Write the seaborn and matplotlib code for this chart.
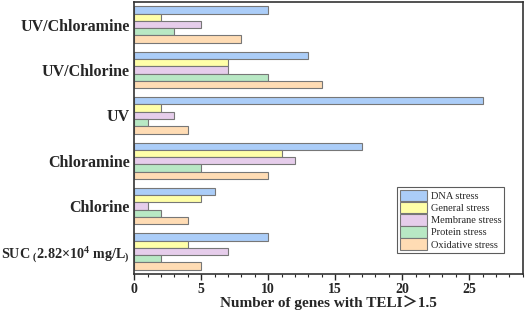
import pandas as pd
import matplotlib.pyplot as plt
import seaborn as sns
from matplotlib.ticker import MultipleLocator

# treatments, top to bottom
treatments = ['UV/Chloramine', 'UV/Chlorine', 'UV', 'Chloramine', 'Chlorine',
              'SUC $_{(}$2.82×10$^{4}$ mg/L$_{)}$']
stresses = ['DNA stress', 'General stress', 'Membrane stress',
            'Protein stress', 'Oxidative stress']

dna = [10, 13, 26, 17, 6, 10]
general = [2, 7, 2, 11, 5, 4]
membrane = [5, 7, 3, 12, 1, 7]
protein = [3, 10, 1, 5, 2, 2]
oxidative = [8, 14, 4, 10, 4, 5]

colors = ['#abcdf8', '#ffffa8', '#e6cdeb', '#b8e8c4', '#ffdcb4']

rows = []
for s, vals in zip(stresses, [dna, general, membrane, protein, oxidative]):
    for t, v in zip(treatments, vals):
        rows.append({'Treatment': t, 'Stress': s, 'Count': v})
df = pd.DataFrame(rows)

sns.set_style('ticks')
plt.rcParams['font.family'] = ['Liberation Serif', 'DejaVu Serif']
plt.rcParams['mathtext.fontset'] = 'custom'
plt.rcParams['mathtext.rm'] = 'Liberation Serif:bold'
plt.rcParams['mathtext.it'] = 'Liberation Serif:bold'
plt.rcParams['mathtext.bf'] = 'Liberation Serif:bold'

fig = plt.figure(figsize=(5.26, 3.17), dpi=100)
ax = fig.add_axes([0.255, 0.135, 0.739, 0.859])

sns.barplot(data=df, y='Treatment', x='Count', hue='Stress', order=treatments,
            hue_order=stresses, palette=colors, orient='h', width=0.8,
            edgecolor='#777777', linewidth=0.8, saturation=1, ax=ax)

ax.set_xlim(0, 29)
ax.xaxis.set_major_locator(MultipleLocator(5))
ax.xaxis.set_minor_locator(MultipleLocator(1))
ax.tick_params(axis='x', which='major', length=4, width=1, labelsize=10, pad=2)
ax.tick_params(axis='x', which='minor', length=2, width=0.8)
ax.tick_params(axis='y', length=0, labelsize=11.5, pad=3)
for lab in ax.get_xticklabels() + ax.get_yticklabels():
    lab.set_fontweight('bold')
ax.get_yticklabels()[-1].set_fontsize(10.2)

ax.set_ylabel('')
ax.set_xlabel('Number of genes with TELI＞1.5', fontsize=11, fontweight='bold',
              family=['Liberation Serif', 'Noto Sans CJK SC'], labelpad=0)

for sp in ax.spines.values():
    sp.set_linewidth(1.2)
    sp.set_color('#333333')

leg = ax.legend(loc='lower right', bbox_to_anchor=(0.965, 0.06), fontsize=7.5,
                frameon=True, fancybox=False, edgecolor='#333333',
                handlelength=2.6, handleheight=1.35, labelspacing=0.05,
                borderpad=0.25, handletextpad=0.4)
leg.get_frame().set_linewidth(0.8)

fig.savefig('out.png', dpi=100)
